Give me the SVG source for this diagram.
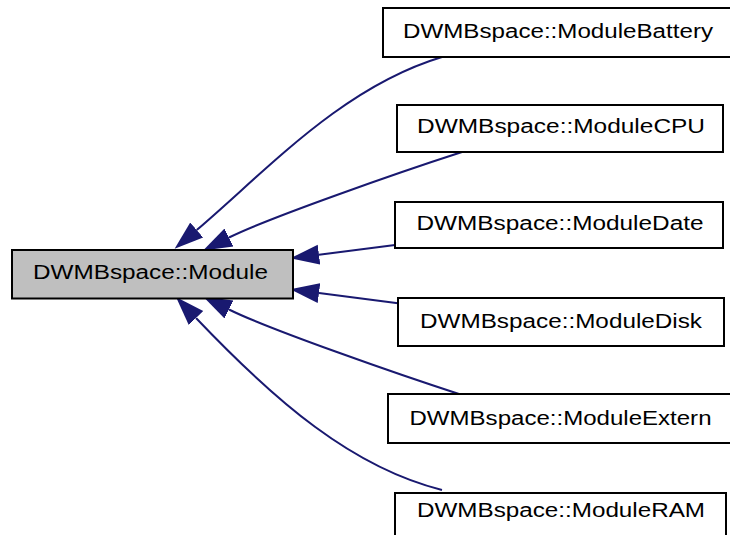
<svg xmlns="http://www.w3.org/2000/svg" width="730" height="535" viewBox="0 0 730 535">
  <style>
    .node rect { stroke: #000000; stroke-width: 2; }
    .base rect { fill: #bfbfbf; }
    .derived rect { fill: #ffffff; }
    .node text { font-family: "Liberation Sans", Arial, sans-serif; font-size: 20px; fill: #000000; text-anchor: middle; }
    .edge { fill: none; stroke: #191970; stroke-width: 2; marker-end: url(#arrow); }
  </style>
  <defs>
    <marker id="arrow" markerUnits="userSpaceOnUse" markerWidth="31" markerHeight="22" viewBox="0 -11 31 22" refX="0" refY="0" orient="auto">
      <path d="M0,-10 L29,0 L0,10 Z" fill="#191970"/>
    </marker>
  </defs>
  <rect width="730" height="535" fill="#ffffff"/>

  <!-- inheritance edges: each derived class points to the base class -->
  <g id="edges">
    <path class="edge" d="M442,57 C342,87 266.7,170.5 196.7,230"/>
    <path class="edge" d="M462,152 C400,172 268,218 229,237.5"/>
    <path class="edge" d="M395,245 L319,254.7"/>
    <path class="edge" d="M398,303.3 L319,293"/>
    <path class="edge" d="M462,395 C400,375 268,329 229,309.5"/>
    <path class="edge" d="M442,490 C352,467.5 276,402 196,318"/>
  </g>

  <g id="node-module" class="node base">
    <rect x="12" y="250" width="281" height="48.5"/>
    <text x="150.5" y="279" textLength="235" lengthAdjust="spacingAndGlyphs">DWMBspace::Module</text>
  </g>
  <g id="node-battery" class="node derived">
    <rect x="383" y="8" width="352" height="49"/>
    <text x="558" y="37.5" textLength="310" lengthAdjust="spacingAndGlyphs">DWMBspace::ModuleBattery</text>
  </g>
  <g id="node-cpu" class="node derived">
    <rect x="397" y="105" width="326" height="47"/>
    <text x="561" y="133" textLength="288" lengthAdjust="spacingAndGlyphs">DWMBspace::ModuleCPU</text>
  </g>
  <g id="node-date" class="node derived">
    <rect x="395" y="202" width="328" height="46"/>
    <text x="560" y="230.3" textLength="287" lengthAdjust="spacingAndGlyphs">DWMBspace::ModuleDate</text>
  </g>
  <g id="node-disk" class="node derived">
    <rect x="398" y="298" width="326" height="48"/>
    <text x="561" y="328" textLength="282" lengthAdjust="spacingAndGlyphs">DWMBspace::ModuleDisk</text>
  </g>
  <g id="node-extern" class="node derived">
    <rect x="388" y="394" width="347" height="49"/>
    <text x="560.5" y="425" textLength="302" lengthAdjust="spacingAndGlyphs">DWMBspace::ModuleExtern</text>
  </g>
  <g id="node-ram" class="node derived">
    <rect x="395" y="493" width="331" height="49"/>
    <text x="561" y="517.3" textLength="288" lengthAdjust="spacingAndGlyphs">DWMBspace::ModuleRAM</text>
  </g>
</svg>
